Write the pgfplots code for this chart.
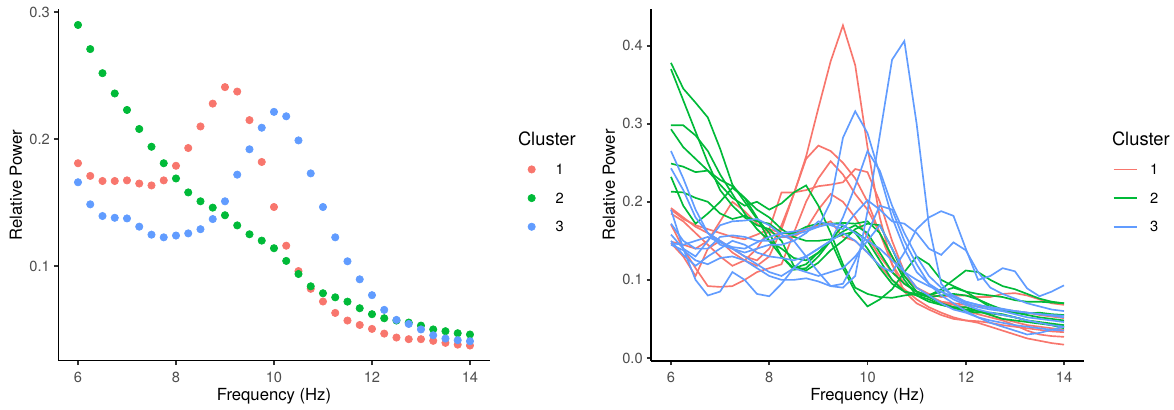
\documentclass[border=0pt]{standalone}
\usepackage{fontspec}
\setmainfont{TeX Gyre Heros}
\usepackage{pgfplots}
\pgfplotsset{compat=1.18}
\definecolor{c1}{HTML}{F8766D}
\definecolor{c2}{HTML}{00BA38}
\definecolor{c3}{HTML}{619CFF}
\definecolor{tickgray}{HTML}{4D4D4D}
\pgfplotsset{gg/.style={
  scale only axis, axis lines=left,
  axis line style={-, black, line width=1.07pt},
  tick align=outside, major tick length=2.75pt,
  tick style={line width=1.07pt, color=black!80},
  xmin=5.6, xmax=14.4, xtick={6,8,10,12,14},
  /pgf/number format/assume math mode=true,
  ticklabel style={font=\fontsize{8.8}{10.56}\selectfont, text=tickgray, inner sep=0pt},
  xticklabel shift=3.85pt, yticklabel shift=2.25pt,
  label style={font=\fontsize{11}{13.2}\selectfont, inner sep=0pt},
  xlabel={Frequency (Hz)}, ylabel={Relative Power},
  legend cell align=left,
}}
\begin{document}
\begin{tikzpicture}
\path[use as bounding box] (0,0) rectangle (704.4pt,246pt);
% ---------------- left panel ----------------
\begin{axis}[gg, at={(35.04pt,29.7pt)}, anchor=south west,
  width=258.7pt, height=210.6pt,
  ymin=0.0255, ymax=0.3022, ytick={0.1,0.2,0.3},
  every axis x label/.style={at={(axis description cs:0.5,-0.1011)}, anchor=center},
  every axis y label/.style={at={(axis description cs:-0.0987,0.5)}, anchor=center, rotate=90},
  legend style={at={(1.0644,0.5852)}, anchor=north west, draw=none, fill=none,
    inner sep=0pt, outer sep=0pt, row sep=0pt,
    nodes={inner sep=0pt, text depth=0pt, font=\fontsize{8.8}{10.56}\selectfont},
    /tikz/every odd column/.append style={column sep=5.8pt}},
  legend image code/.code={\path[draw=none, fill=none] (-8.6pt,-8.6pt) rectangle (8.6pt,8.6pt);
    \draw[#1] plot coordinates {(0pt,0pt)};},
]
\addplot[only marks, mark=*, mark size=2.2pt, c1] coordinates {
(6,0.181)(6.25,0.171)(6.5,0.167)(6.75,0.167)(7,0.1675)(7.25,0.165)(7.5,0.1635)(7.75,0.1675)(8,0.179)(8.25,0.193)(8.5,0.210)(8.75,0.228)(9,0.241)(9.25,0.2375)(9.5,0.215)(9.75,0.182)(10,0.1465)(10.25,0.116)(10.5,0.096)(10.75,0.082)(11,0.072)(11.25,0.063)(11.5,0.057)(11.75,0.0535)(12,0.0504)(12.25,0.0467)(12.5,0.0436)(12.75,0.0423)(13,0.0423)(13.25,0.041)(13.5,0.0394)(13.75,0.038)(14,0.0373)};
\addlegendentry{1}
\addplot[only marks, mark=*, mark size=2.2pt, c2] coordinates {
(6,0.290)(6.25,0.271)(6.5,0.252)(6.75,0.236)(7,0.223)(7.25,0.208)(7.5,0.194)(7.75,0.181)(8,0.169)(8.25,0.158)(8.5,0.151)(8.75,0.146)(9,0.140)(9.25,0.132)(9.5,0.125)(9.75,0.120)(10,0.114)(10.25,0.104)(10.5,0.0937)(10.75,0.084)(11,0.0785)(11.25,0.0753)(11.5,0.0719)(11.75,0.0667)(12,0.062)(12.25,0.0588)(12.5,0.057)(12.75,0.0554)(13,0.053)(13.25,0.050)(13.5,0.0486)(13.75,0.047)(14,0.046)};
\addlegendentry{2}
\addplot[only marks, mark=*, mark size=2.2pt, c3] coordinates {
(6,0.166)(6.25,0.1486)(6.5,0.1394)(6.75,0.138)(7,0.1375)(7.25,0.131)(7.5,0.1247)(7.75,0.1226)(8,0.124)(8.25,0.1257)(8.5,0.129)(8.75,0.137)(9,0.151)(9.25,0.172)(9.5,0.192)(9.75,0.209)(10,0.2215)(10.25,0.218)(10.5,0.199)(10.75,0.173)(11,0.1465)(11.25,0.1226)(11.5,0.1037)(11.75,0.0895)(12,0.077)(12.25,0.0654)(12.5,0.0575)(12.75,0.0543)(13,0.050)(13.25,0.0454)(13.5,0.0428)(13.75,0.0415)(14,0.0407)};
\addlegendentry{3}
\end{axis}
\node[anchor=west, inner sep=0pt, font=\fontsize{11}{13.2}\selectfont] at (310.6pt,163pt) {Cluster};
% ---------------- right panel ----------------
\begin{axis}[gg, at={(390.8pt,29.6pt)}, anchor=south west,
  width=259.4pt, height=211pt,
  ymin=-0.0035, ymax=0.447, ytick={0,0.1,0.2,0.3,0.4},
  yticklabel style={/pgf/number format/.cd, fixed, fixed zerofill, precision=1},
  every axis x label/.style={at={(axis description cs:0.5,-0.1005)}, anchor=center},
  every axis y label/.style={at={(axis description cs:-0.0983,0.5)}, anchor=center, rotate=90},
  legend style={at={(1.0671,0.5846)}, anchor=north west, draw=none, fill=none,
    inner sep=0pt, outer sep=0pt, row sep=0pt,
    nodes={inner sep=0pt, text depth=0pt, font=\fontsize{8.8}{10.56}\selectfont},
    /tikz/every odd column/.append style={column sep=7.6pt}},
  legend image code/.code={\path[draw=none, fill=none] (0pt,-8.6pt) rectangle (13.8pt,8.6pt);
    \draw[#1] (0pt,0pt) -- (13.8pt,0pt);},
  every axis plot/.append style={line width=1.0pt, no markers},
]
% cluster 1
\addplot[c1, forget plot] coordinates {(6,0.147)(6.25,0.130)(6.5,0.105)(6.75,0.140)(7,0.150)(7.25,0.135)(7.5,0.125)(7.75,0.118)(8,0.130)(8.25,0.165)(8.5,0.210)(8.75,0.258)(9,0.320)(9.25,0.380)(9.5,0.426)(9.75,0.375)(10,0.270)(10.25,0.180)(10.5,0.120)(10.75,0.085)(11,0.070)(11.25,0.062)(11.5,0.055)(11.75,0.050)(12,0.048)(12.25,0.047)(12.5,0.045)(12.75,0.042)(13,0.040)(13.25,0.038)(13.5,0.036)(13.75,0.034)(14,0.033)};
\addplot[c1, forget plot] coordinates {(6,0.192)(6.25,0.180)(6.5,0.168)(6.75,0.160)(7,0.150)(7.25,0.140)(7.5,0.130)(7.75,0.125)(8,0.140)(8.25,0.170)(8.5,0.210)(8.75,0.255)(9,0.272)(9.25,0.265)(9.5,0.250)(9.75,0.230)(10,0.200)(10.25,0.160)(10.5,0.120)(10.75,0.095)(11,0.085)(11.25,0.078)(11.5,0.072)(11.75,0.068)(12,0.065)(12.25,0.060)(12.5,0.055)(12.75,0.050)(13,0.046)(13.25,0.042)(13.5,0.040)(13.75,0.038)(14,0.036)};
\addplot[c1, forget plot] coordinates {(6,0.185)(6.25,0.175)(6.5,0.160)(6.75,0.145)(7,0.130)(7.25,0.118)(7.5,0.125)(7.75,0.140)(8,0.165)(8.25,0.212)(8.5,0.212)(8.75,0.215)(9,0.220)(9.25,0.222)(9.5,0.225)(9.75,0.242)(10,0.238)(10.25,0.200)(10.5,0.150)(10.75,0.110)(11,0.090)(11.25,0.082)(11.5,0.078)(11.75,0.080)(12,0.080)(12.25,0.078)(12.5,0.078)(12.75,0.082)(13,0.083)(13.25,0.080)(13.5,0.075)(13.75,0.070)(14,0.068)};
\addplot[c1, forget plot] coordinates {(6,0.171)(6.25,0.140)(6.5,0.115)(6.75,0.092)(7,0.091)(7.25,0.092)(7.5,0.100)(7.75,0.110)(8,0.115)(8.25,0.120)(8.5,0.160)(8.75,0.200)(9,0.230)(9.25,0.252)(9.5,0.235)(9.75,0.210)(10,0.190)(10.25,0.160)(10.5,0.130)(10.75,0.105)(11,0.090)(11.25,0.080)(11.5,0.072)(11.75,0.065)(12,0.060)(12.25,0.056)(12.5,0.052)(12.75,0.048)(13,0.042)(13.25,0.035)(13.5,0.030)(13.75,0.028)(14,0.027)};
\addplot[c1, forget plot] coordinates {(6,0.149)(6.25,0.145)(6.5,0.140)(6.75,0.150)(7,0.175)(7.25,0.200)(7.5,0.188)(7.75,0.172)(8,0.162)(8.25,0.155)(8.5,0.155)(8.75,0.165)(9,0.190)(9.25,0.210)(9.5,0.200)(9.75,0.180)(10,0.155)(10.25,0.130)(10.5,0.110)(10.75,0.095)(11,0.085)(11.25,0.078)(11.5,0.072)(11.75,0.070)(12,0.068)(12.25,0.066)(12.5,0.065)(12.75,0.062)(13,0.060)(13.25,0.058)(13.5,0.055)(13.75,0.053)(14,0.051)};
\addplot[c1, forget plot] coordinates {(6,0.190)(6.25,0.178)(6.5,0.170)(6.75,0.165)(7,0.160)(7.25,0.155)(7.5,0.152)(7.75,0.158)(8,0.165)(8.25,0.160)(8.5,0.158)(8.75,0.165)(9,0.170)(9.25,0.175)(9.5,0.155)(9.75,0.150)(10,0.135)(10.25,0.118)(10.5,0.100)(10.75,0.088)(11,0.075)(11.25,0.065)(11.5,0.058)(11.75,0.052)(12,0.048)(12.25,0.045)(12.5,0.040)(12.75,0.035)(13,0.030)(13.25,0.025)(13.5,0.022)(13.75,0.019)(14,0.017)};
% cluster 2
\addplot[c2, forget plot] coordinates {(6,0.378)(6.25,0.345)(6.5,0.327)(6.75,0.308)(7,0.268)(7.25,0.222)(7.5,0.200)(7.75,0.178)(8,0.160)(8.25,0.130)(8.5,0.113)(8.75,0.115)(9,0.130)(9.25,0.150)(9.5,0.115)(9.75,0.085)(10,0.066)(10.25,0.075)(10.5,0.088)(10.75,0.110)(11,0.130)(11.25,0.120)(11.5,0.100)(11.75,0.092)(12,0.085)(12.25,0.082)(12.5,0.080)(12.75,0.078)(13,0.074)(13.25,0.072)(13.5,0.072)(13.75,0.071)(14,0.070)};
\addplot[c2, forget plot] coordinates {(6,0.370)(6.25,0.330)(6.5,0.290)(6.75,0.250)(7,0.215)(7.25,0.195)(7.5,0.180)(7.75,0.170)(8,0.165)(8.25,0.150)(8.5,0.118)(8.75,0.112)(9,0.122)(9.25,0.138)(9.5,0.150)(9.75,0.165)(10,0.172)(10.25,0.170)(10.5,0.140)(10.75,0.105)(11,0.085)(11.25,0.078)(11.5,0.080)(11.75,0.082)(12,0.080)(12.25,0.075)(12.5,0.068)(12.75,0.062)(13,0.058)(13.25,0.055)(13.5,0.052)(13.75,0.050)(14,0.048)};
\addplot[c2, forget plot] coordinates {(6,0.298)(6.25,0.298)(6.5,0.285)(6.75,0.265)(7,0.235)(7.25,0.210)(7.5,0.185)(7.75,0.165)(8,0.150)(8.25,0.140)(8.5,0.128)(8.75,0.125)(9,0.135)(9.25,0.150)(9.5,0.162)(9.75,0.170)(10,0.160)(10.25,0.135)(10.5,0.110)(10.75,0.095)(11,0.085)(11.25,0.080)(11.5,0.088)(11.75,0.100)(12,0.112)(12.25,0.110)(12.5,0.100)(12.75,0.092)(13,0.088)(13.25,0.082)(13.5,0.076)(13.75,0.072)(14,0.070)};
\addplot[c2, forget plot] coordinates {(6,0.293)(6.25,0.270)(6.5,0.255)(6.75,0.240)(7,0.222)(7.25,0.205)(7.5,0.195)(7.75,0.200)(8,0.190)(8.25,0.198)(8.5,0.212)(8.75,0.221)(9,0.195)(9.25,0.160)(9.5,0.120)(9.75,0.090)(10,0.082)(10.25,0.078)(10.5,0.077)(10.75,0.080)(11,0.082)(11.25,0.078)(11.5,0.070)(11.75,0.065)(12,0.062)(12.25,0.060)(12.5,0.057)(12.75,0.055)(13,0.052)(13.25,0.048)(13.5,0.046)(13.75,0.044)(14,0.042)};
\addplot[c2, forget plot] coordinates {(6,0.249)(6.25,0.245)(6.5,0.238)(6.75,0.240)(7,0.228)(7.25,0.220)(7.5,0.205)(7.75,0.190)(8,0.180)(8.25,0.165)(8.5,0.155)(8.75,0.150)(9,0.150)(9.25,0.152)(9.5,0.158)(9.75,0.162)(10,0.150)(10.25,0.125)(10.5,0.100)(10.75,0.085)(11,0.080)(11.25,0.075)(11.5,0.068)(11.75,0.065)(12,0.065)(12.25,0.060)(12.5,0.055)(12.75,0.050)(13,0.048)(13.25,0.046)(13.5,0.044)(13.75,0.042)(14,0.040)};
\addplot[c2, forget plot] coordinates {(6,0.232)(6.25,0.195)(6.5,0.172)(6.75,0.185)(7,0.200)(7.25,0.218)(7.5,0.205)(7.75,0.180)(8,0.150)(8.25,0.130)(8.5,0.115)(8.75,0.120)(9,0.135)(9.25,0.150)(9.5,0.170)(9.75,0.160)(10,0.140)(10.25,0.115)(10.5,0.095)(10.75,0.085)(11,0.082)(11.25,0.080)(11.5,0.085)(11.75,0.090)(12,0.085)(12.25,0.075)(12.5,0.065)(12.75,0.060)(13,0.058)(13.25,0.057)(13.5,0.058)(13.75,0.056)(14,0.055)};
\addplot[c2, forget plot] coordinates {(6,0.213)(6.25,0.212)(6.5,0.205)(6.75,0.200)(7,0.185)(7.25,0.178)(7.5,0.182)(7.75,0.175)(8,0.172)(8.25,0.160)(8.5,0.160)(8.75,0.168)(9,0.172)(9.25,0.172)(9.5,0.173)(9.75,0.172)(10,0.175)(10.25,0.160)(10.5,0.130)(10.75,0.100)(11,0.080)(11.25,0.072)(11.5,0.068)(11.75,0.064)(12,0.060)(12.25,0.058)(12.5,0.058)(12.75,0.056)(13,0.052)(13.25,0.048)(13.5,0.045)(13.75,0.042)(14,0.038)};
% cluster 3
\addplot[c3, forget plot] coordinates {(6,0.145)(6.25,0.138)(6.5,0.125)(6.75,0.120)(7,0.128)(7.25,0.130)(7.5,0.125)(7.75,0.115)(8,0.105)(8.25,0.100)(8.5,0.100)(8.75,0.102)(9,0.098)(9.25,0.092)(9.5,0.090)(9.75,0.105)(10,0.188)(10.25,0.285)(10.5,0.382)(10.75,0.406)(11,0.300)(11.25,0.170)(11.5,0.095)(11.75,0.078)(12,0.070)(12.25,0.065)(12.5,0.062)(12.75,0.060)(13,0.056)(13.25,0.052)(13.5,0.050)(13.75,0.048)(14,0.046)};
\addplot[c3, forget plot] coordinates {(6,0.172)(6.25,0.150)(6.5,0.140)(6.75,0.140)(7,0.155)(7.25,0.157)(7.5,0.155)(7.75,0.150)(8,0.150)(8.25,0.155)(8.5,0.158)(8.75,0.162)(9,0.168)(9.25,0.200)(9.5,0.282)(9.75,0.316)(10,0.288)(10.25,0.235)(10.5,0.180)(10.75,0.140)(11,0.110)(11.25,0.095)(11.5,0.085)(11.75,0.075)(12,0.068)(12.25,0.062)(12.5,0.058)(12.75,0.055)(13,0.052)(13.25,0.048)(13.5,0.045)(13.75,0.042)(14,0.040)};
\addplot[c3, forget plot] coordinates {(6,0.243)(6.25,0.215)(6.5,0.180)(6.75,0.160)(7,0.145)(7.25,0.140)(7.5,0.130)(7.75,0.120)(8,0.110)(8.25,0.105)(8.5,0.115)(8.75,0.130)(9,0.140)(9.25,0.150)(9.5,0.180)(9.75,0.220)(10,0.265)(10.25,0.240)(10.5,0.195)(10.75,0.160)(11,0.130)(11.25,0.105)(11.5,0.090)(11.75,0.080)(12,0.072)(12.25,0.068)(12.5,0.065)(12.75,0.063)(13,0.060)(13.25,0.058)(13.5,0.056)(13.75,0.054)(14,0.052)};
\addplot[c3, forget plot] coordinates {(6,0.150)(6.25,0.132)(6.5,0.118)(6.75,0.130)(7,0.140)(7.25,0.150)(7.5,0.145)(7.75,0.135)(8,0.130)(8.25,0.128)(8.5,0.125)(8.75,0.130)(9,0.140)(9.25,0.150)(9.5,0.160)(9.75,0.150)(10,0.135)(10.25,0.118)(10.5,0.110)(10.75,0.135)(11,0.165)(11.25,0.180)(11.5,0.188)(11.75,0.182)(12,0.140)(12.25,0.100)(12.5,0.105)(12.75,0.115)(13,0.111)(13.25,0.089)(13.5,0.079)(13.75,0.085)(14,0.093)};
\addplot[c3, forget plot] coordinates {(6,0.265)(6.25,0.230)(6.5,0.190)(6.75,0.160)(7,0.150)(7.25,0.140)(7.5,0.135)(7.75,0.140)(8,0.145)(8.25,0.145)(8.5,0.150)(8.75,0.160)(9,0.175)(9.25,0.170)(9.5,0.165)(9.75,0.185)(10,0.202)(10.25,0.190)(10.5,0.175)(10.75,0.172)(11,0.160)(11.25,0.140)(11.5,0.132)(11.75,0.148)(12,0.138)(12.25,0.110)(12.5,0.090)(12.75,0.082)(13,0.076)(13.25,0.070)(13.5,0.066)(13.75,0.062)(14,0.060)};
\addplot[c3, forget plot] coordinates {(6,0.190)(6.25,0.140)(6.5,0.100)(6.75,0.080)(7,0.085)(7.25,0.110)(7.5,0.100)(7.75,0.082)(8,0.079)(8.25,0.095)(8.5,0.115)(8.75,0.110)(9,0.105)(9.25,0.110)(9.5,0.115)(9.75,0.130)(10,0.150)(10.25,0.170)(10.5,0.140)(10.75,0.110)(11,0.090)(11.25,0.080)(11.5,0.070)(11.75,0.062)(12,0.058)(12.25,0.052)(12.5,0.048)(12.75,0.045)(13,0.042)(13.25,0.040)(13.5,0.038)(13.75,0.036)(14,0.035)};
\addplot[c3, forget plot] coordinates {(6,0.158)(6.25,0.140)(6.5,0.130)(6.75,0.150)(7,0.170)(7.25,0.175)(7.5,0.176)(7.75,0.178)(8,0.170)(8.25,0.158)(8.5,0.150)(8.75,0.130)(9,0.110)(9.25,0.092)(9.5,0.095)(9.75,0.125)(10,0.160)(10.25,0.195)(10.5,0.190)(10.75,0.150)(11,0.120)(11.25,0.095)(11.5,0.080)(11.75,0.070)(12,0.060)(12.25,0.052)(12.5,0.045)(12.75,0.040)(13,0.035)(13.25,0.030)(13.5,0.032)(13.75,0.036)(14,0.040)};
\addplot[c3, forget plot] coordinates {(6,0.147)(6.25,0.145)(6.5,0.150)(6.75,0.155)(7,0.148)(7.25,0.142)(7.5,0.140)(7.75,0.148)(8,0.155)(8.25,0.160)(8.5,0.162)(8.75,0.165)(9,0.168)(9.25,0.172)(9.5,0.170)(9.75,0.160)(10,0.150)(10.25,0.140)(10.5,0.125)(10.75,0.110)(11,0.100)(11.25,0.092)(11.5,0.085)(11.75,0.078)(12,0.072)(12.25,0.068)(12.5,0.064)(12.75,0.062)(13,0.060)(13.25,0.058)(13.5,0.056)(13.75,0.055)(14,0.054)};
\addlegendimage{draw=c1, line width=1.0pt}
\addlegendentry{1}
\addlegendimage{draw=c2, line width=1.0pt}
\addlegendentry{2}
\addlegendimage{draw=c3, line width=1.0pt}
\addlegendentry{3}
\end{axis}
\node[anchor=west, inner sep=0pt, font=\fontsize{11}{13.2}\selectfont] at (667pt,163pt) {Cluster};
\end{tikzpicture}
\end{document}
